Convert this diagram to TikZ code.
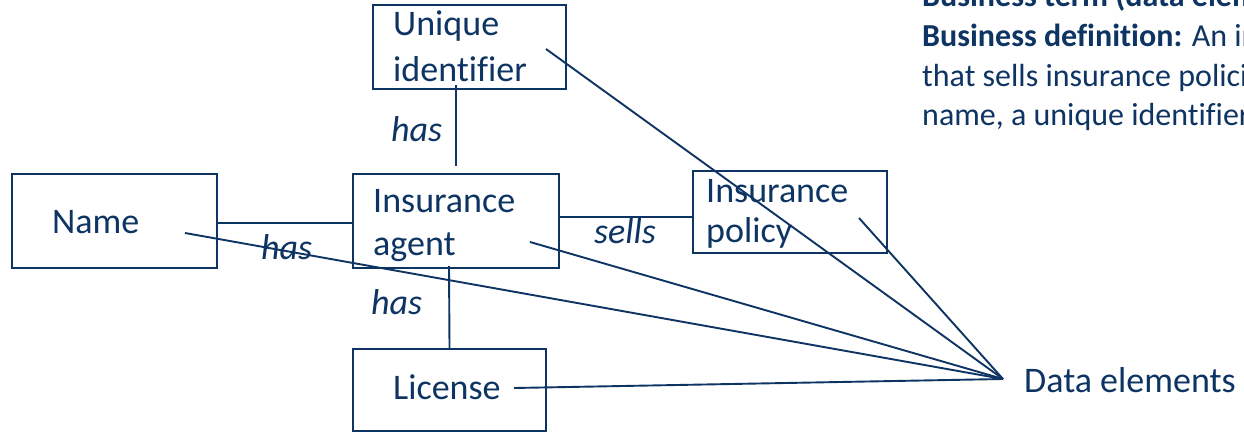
\documentclass[tikz,border=0pt]{standalone}
\usepackage{fontspec}
\setmainfont{Carlito}[Ligatures=NoCommon]
\definecolor{navy}{RGB}{13,52,98}
\begin{document}
\begin{tikzpicture}[x=1pt,y=-1pt,
  box/.style={draw=navy,line width=2.4pt,rectangle,inner sep=0pt},
  link/.style={draw=navy,line width=1.9pt},
  boxtext/.style={anchor=base west,inner sep=0pt,text=navy,font=\fontsize{36}{40}\selectfont},
  rel/.style={anchor=base west,inner sep=0pt,text=navy,font=\fontsize{36}{40}\selectfont\itshape},
  deftext/.style={anchor=base west,inner sep=0pt,text=navy,font=\fontsize{32}{36}\selectfont}]
\useasboundingbox (0,0) rectangle (1244,433);
\clip (0,0) rectangle (1244,433);
\fill[white] (0,0) rectangle (1244,433);

% boxes
\node[box,minimum width=193pt,minimum height=84pt] (uid) at (469.5,47) {};
\node[box,minimum width=205pt,minimum height=94pt] (name) at (114.5,221) {};
\node[box,minimum width=206pt,minimum height=94pt] (agent) at (456,221) {};
\node[box,minimum width=194pt,minimum height=82pt] (policy) at (790,212) {};
\node[box,minimum width=193pt,minimum height=82pt] (lic) at (449.5,390) {};

% box texts
\node[boxtext] (uidt1) at (393,36) {Unique};
\node[boxtext] (uidt2) at (393,82) {identifier};
\node[boxtext] (namet) at (52,233) {Name};
\node[boxtext] (agentt1) at (373,212) {Insurance};
\node[boxtext] (agentt2) at (373,255) {agent};
\node[boxtext] (policyt1) at (706,202) {Insurance};
\node[boxtext] (policyt2) at (706,242) {policy};
\node[boxtext] (lict) at (393,399) {License};
\node[boxtext] (data) at (1024,392) {Data elements};

% relation labels
\node[rel] (has1) at (391,142) {has};
\node[rel] (has2) at (261,259) {has};
\node[rel] (sells) at (594,243) {sells};
\node[rel] (has3) at (371,314) {has};

% definition text (cut off at the right and top)
\node[deftext] (def1) at (922,7) {\textbf{Business term (data element):} Insurance agent};
\node[deftext] (def2) at (922,47) {\textbf{Business definition:} An individual};
\node[deftext] (def3) at (922,87) {that sells insurance policies, who has a};
\node[deftext] (def4) at (922,126) {name, a unique identifier and a license};

% relation connectors
\draw[link] ([xshift=-13.5pt,yshift=5pt]uid.south) -- ([yshift=7pt]agent.north);
\draw[link] ([yshift=-2pt]name.east) -- ([yshift=-2pt]agent.west);
\draw[link] ([yshift=4pt]agent.east) -- ([yshift=-5pt]policy.west);
\draw[link] ([xshift=-7pt,yshift=3pt]agent.south) -- (lic.north);

% data element pointers
\coordinate (dp) at (1003,379);
\coordinate (uidp) at (546,49);
\coordinate (polp) at (859,218);
\coordinate (agp) at (530,242);
\coordinate (namp) at (185,233);
\coordinate (licp) at (514,388);
\draw[link] (uidp) -- (dp);
\draw[link] (polp) -- (dp);
\draw[link] (agp) -- (dp);
\draw[link] (namp) -- (dp);
\draw[link] (licp) -- (dp);
\end{tikzpicture}
\end{document}
